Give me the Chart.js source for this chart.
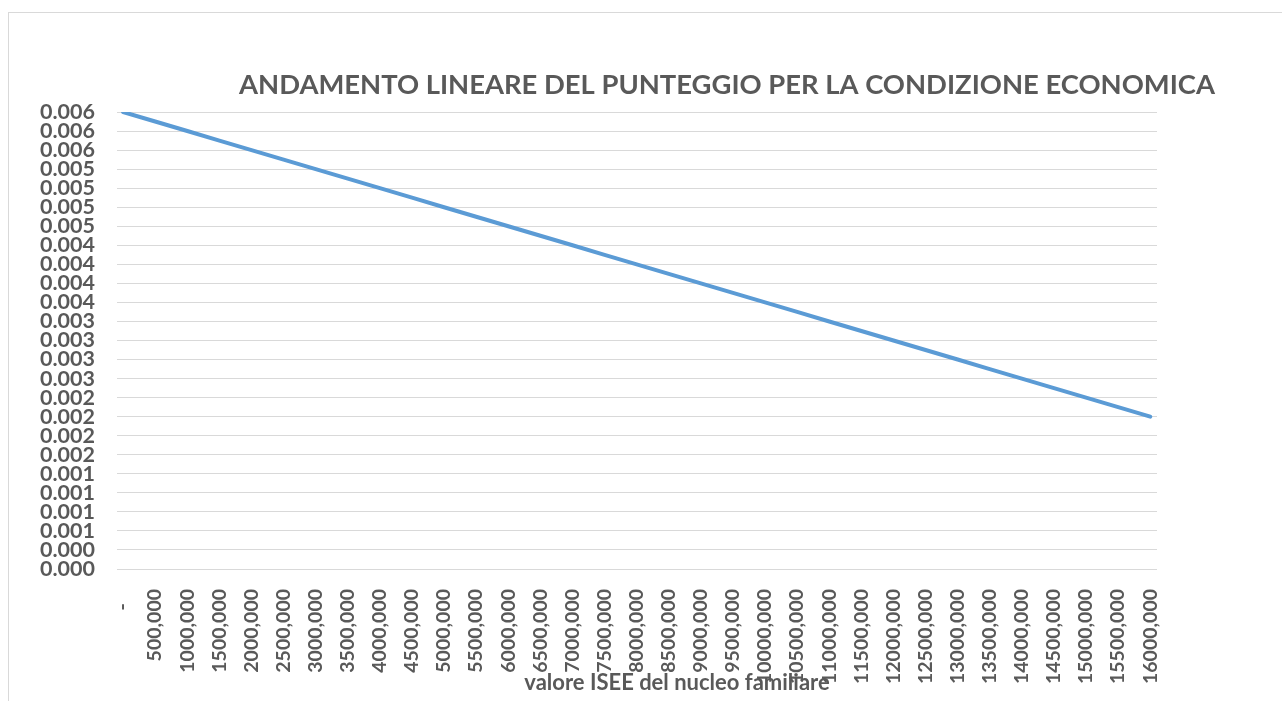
<!DOCTYPE html>
<html>
<head>
<meta charset="utf-8">
<script src="https://cdn.jsdelivr.net/npm/chart.js@4/dist/chart.umd.min.js"></script>
<style>
  html, body { margin: 0; padding: 0; background: #fff; overflow: hidden; }
  #frame { position: absolute; left: 8px; top: 12px; width: 1400px; height: 800px; border: 1px solid #d9d9d9; }
  #wrap { position: absolute; left: 0; top: 0; width: 1282px; height: 701px; }
</style>
</head>
<body>
<div id="frame"></div>
<div id="wrap"><canvas id="chart" width="1282" height="701"></canvas></div>
<script>
// titles
const chartTitle = "ANDAMENTO LINEARE DEL PUNTEGGIO PER LA CONDIZIONE ECONOMICA";
const xAxisTitle = "valore ISEE del nucleo familiare";

// valore ISEE (x) and punteggio (y)
const iseeValues = [
  0, 500000, 1000000, 1500000, 2000000, 2500000, 3000000, 3500000, 4000000,
  4500000, 5000000, 5500000, 6000000, 6500000, 7000000, 7500000, 8000000,
  8500000, 9000000, 9500000, 10000000, 10500000, 11000000, 11500000, 12000000,
  12500000, 13000000, 13500000, 14000000, 14500000, 15000000, 15500000, 16000000
];
const iseeLabels = [
  "-   ", "500,000", "1000,000", "1500,000", "2000,000", "2500,000", "3000,000",
  "3500,000", "4000,000", "4500,000", "5000,000", "5500,000", "6000,000",
  "6500,000", "7000,000", "7500,000", "8000,000", "8500,000", "9000,000",
  "9500,000", "10000,000", "10500,000", "11000,000", "11500,000", "12000,000",
  "12500,000", "13000,000", "13500,000", "14000,000", "14500,000", "15000,000",
  "15500,000", "16000,000"
];
const punteggio = [
  0.006, 0.005875, 0.00575, 0.005625, 0.0055, 0.005375, 0.00525, 0.005125, 0.005,
  0.004875, 0.00475, 0.004625, 0.0045, 0.004375, 0.00425, 0.004125, 0.004,
  0.003875, 0.00375, 0.003625, 0.0035, 0.003375, 0.00325, 0.003125, 0.003,
  0.002875, 0.00275, 0.002625, 0.0025, 0.002375, 0.00225, 0.002125, 0.002
];

// y ticks, bottom to top
const yTickValues = [
  0, 0.00025, 0.0005, 0.00075, 0.001, 0.00125, 0.0015, 0.00175, 0.002,
  0.00225, 0.0025, 0.00275, 0.003, 0.00325, 0.0035, 0.00375, 0.004,
  0.00425, 0.0045, 0.00475, 0.005, 0.00525, 0.0055, 0.00575, 0.006
];
const yTickLabels = [
  "0.000", "0.000", "0.001", "0.001", "0.001", "0.001", "0.002", "0.002", "0.002",
  "0.002", "0.003", "0.003", "0.003", "0.003", "0.004", "0.004", "0.004",
  "0.004", "0.005", "0.005", "0.005", "0.005", "0.006", "0.006", "0.006"
];

const FONT = "Lato, 'Open Sans', sans-serif";
const GREY = "#595959";

// draws the chart title and the x axis title where Excel put them
const freeTitles = {
  id: "freeTitles",
  afterDraw(chart) {
    const ctx = chart.ctx;
    ctx.save();
    ctx.fillStyle = GREY;
    ctx.textAlign = "center";
    ctx.textBaseline = "middle";
    ctx.font = "bold 27.4px " + FONT;
    ctx.fillText(chartTitle, 727, 85);
    ctx.font = "bold 22px " + FONT;
    ctx.fillText(xAxisTitle, 677, 683);
    ctx.restore();
  },
};

const points = iseeValues.map((v, i) => ({ x: v, y: punteggio[i] }));

new Chart(document.getElementById("chart").getContext("2d"), {
  type: "line",
  data: {
    datasets: [
      {
        label: "Punteggio",
        data: points,
        borderColor: "#5B9BD5",
        borderWidth: 4,
        pointRadius: 0,
        tension: 0,
        borderCapStyle: "round",
      },
    ],
  },
  options: {
    responsive: false,
    animation: false,
    layout: { padding: { left: 0, right: 125, top: 112, bottom: 0 } },
    plugins: { legend: { display: false }, title: { display: false }, tooltip: { enabled: false } },
    scales: {
      x: {
        type: "linear",
        min: -95000,
        max: 16105000,
        afterBuildTicks: (scale) => { scale.ticks = iseeValues.map((v) => ({ value: v })); },
        afterFit: (scale) => { scale.height = 132; },
        grid: { display: false, drawTicks: false },
        border: { display: false },
        ticks: {
          autoSkip: false,
          maxRotation: 90,
          minRotation: 90,
          padding: 20,
          color: GREY,
          font: { family: FONT, size: 19.5, weight: "bold" },
          callback: (v, i) => iseeLabels[i],
        },
      },
      y: {
        min: 0,
        max: 0.006,
        afterBuildTicks: (scale) => { scale.ticks = yTickValues.map((v) => ({ value: v })); },
        afterFit: (scale) => { scale.width = 117; },
        grid: { color: "#d9d9d9", lineWidth: 1, drawTicks: false },
        border: { display: false },
        ticks: {
          autoSkip: false,
          padding: 22,
          color: GREY,
          font: { family: FONT, size: 21.5, weight: "bold", lineHeight: 1 },
          callback: (v, i) => yTickLabels[i],
        },
      },
    },
  },
  plugins: [freeTitles],
});
</script>
</body>
</html>
